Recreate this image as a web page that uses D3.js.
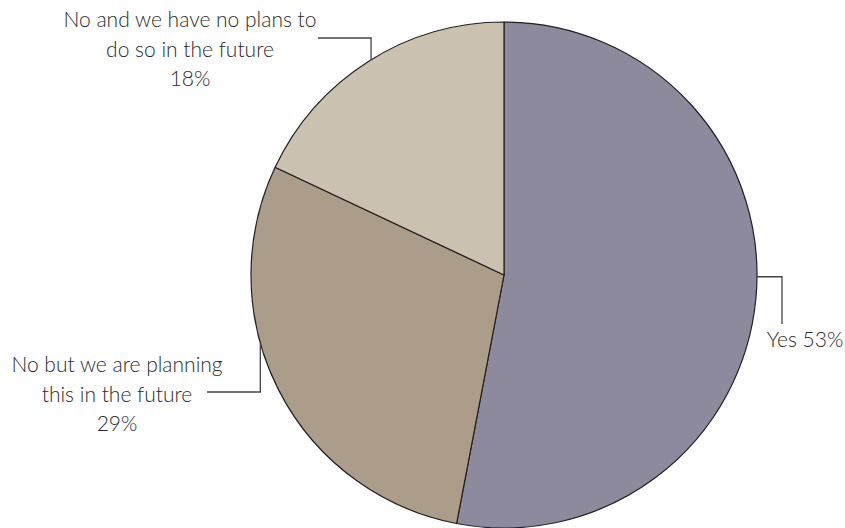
<!DOCTYPE html>
<html>
<head>
<meta charset="utf-8">
<script src="https://cdn.jsdelivr.net/npm/d3@7"></script>
<style>
  body { margin: 0; background: #fff; }
  svg text { font-family: Lato, "Open Sans", sans-serif; font-weight: 300; fill: #2b2b2b; }
</style>
</head>
<body>
<div id="chart"></div>
<script>
var categories = ["Yes", "No but we are planning this in the future", "No and we have no plans to do so in the future"];
var values     = [53, 29, 18];
var colors     = ["#8d8a9e", "#ab9d89", "#cbc1b0"];

// label text lines for each slice
var labelLines = [
  ["Yes 53%"],
  ["No but we are planning", "this in the future", "29%"],
  ["No and we have no plans to", "do so in the future", "18%"]
];

var width  = 845,
    height = 528,
    cx     = 504,
    cy     = 275,
    radius = 253;

var svg = d3.select("#chart").append("svg")
    .attr("width", width)
    .attr("height", height);

var g = svg.append("g").attr("transform", "translate(" + cx + "," + cy + ")");

var pie  = d3.pie().sort(null).value(function (d) { return d; });
var arc  = d3.arc().innerRadius(0).outerRadius(radius);
var arcs = pie(values);

g.selectAll("path.slice")
  .data(arcs)
  .enter().append("path")
    .attr("class", "slice")
    .attr("d", arc)
    .attr("fill", function (d, i) { return colors[i]; })
    .attr("stroke", "#231f20")
    .attr("stroke-width", 1.2)
    .attr("stroke-linejoin", "round");

/*--------------------------- labels ---------------------------*/

// where each leader touches the rim (degrees clockwise from top), its elbow, and the text block
var leaders = [
  { angle: 90.4,  elbowX: 782, endY: 324, tx: 805, ty: 347 },
  { angle: 254.4, elbowY: 392, endX: 207, tx: 117, ty: 372 },
  { angle: 328.3, elbowY: 38,  endX: 318, tx: 190, ty: 27  }
];

function rim(deg) {
  var a = deg * Math.PI / 180;
  return [cx + radius * Math.sin(a), cy - radius * Math.cos(a)];
}

var lines = svg.append("g")
  .attr("fill", "none")
  .attr("stroke", "#444")
  .attr("stroke-width", 1.3);

leaders.forEach(function (l, i) {
  var p = rim(l.angle), pts;
  if (l.elbowX != null) pts = [p, [l.elbowX, p[1]], [l.elbowX, l.endY]];
  else                  pts = [p, [p[0], l.elbowY], [l.endX, l.elbowY]];
  lines.append("path").attr("d", d3.line()(pts));

  var t = svg.append("text")
    .attr("x", l.tx)
    .attr("y", l.ty)
    .attr("text-anchor", "middle")
    .style("font-size", "21px");
  labelLines[i].forEach(function (s, j) {
    t.append("tspan").attr("x", l.tx).attr("dy", j ? 29.5 : 0).text(s);
  });
});
</script>
</body>
</html>
